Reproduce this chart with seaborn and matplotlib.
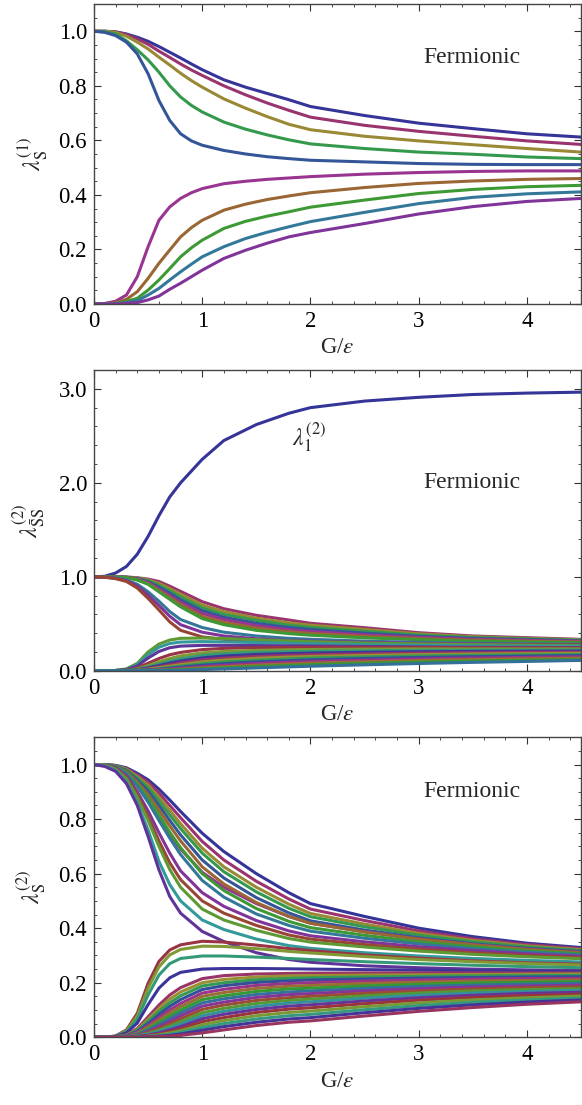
import colorsys
import numpy as np
import pandas as pd
import matplotlib
matplotlib.use("Agg")
import matplotlib.pyplot as plt
from matplotlib.ticker import MultipleLocator, FormatStrFormatter
import seaborn as sns

G1 = [0, 0.1, 0.2, 0.3, 0.4, 0.5, 0.6, 0.7, 0.8, 0.9, 1.0, 1.2, 1.4, 1.6, 1.8, 2.0, 2.5, 3.0, 3.5, 4.0, 4.5]
G = [0, 0.1, 0.2, 0.3, 0.4, 0.5, 0.6, 0.7, 0.8, 1.0, 1.2, 1.5, 1.8, 2.0, 2.5, 3.0, 3.5, 4.0, 4.5]

# panel 1: one-body eigenvalues (on G1)
p1_falling = [
    [1.0, 1.0, 0.998, 0.99, 0.978, 0.963, 0.944, 0.923, 0.902, 0.88, 0.859, 0.822, 0.795, 0.772, 0.749, 0.724, 0.691, 0.663, 0.643, 0.624, 0.612],
    [1.0, 1.0, 0.997, 0.988, 0.972, 0.952, 0.927, 0.904, 0.88, 0.858, 0.838, 0.80, 0.767, 0.737, 0.71, 0.685, 0.655, 0.633, 0.615, 0.598, 0.585],
    [1.0, 1.0, 0.996, 0.982, 0.96, 0.935, 0.905, 0.876, 0.846, 0.819, 0.795, 0.752, 0.718, 0.687, 0.659, 0.639, 0.615, 0.598, 0.584, 0.57, 0.557],
    [1.0, 0.998, 0.99, 0.965, 0.932, 0.895, 0.85, 0.80, 0.759, 0.728, 0.704, 0.667, 0.641, 0.62, 0.602, 0.587, 0.57, 0.557, 0.549, 0.539, 0.533],
    [1.0, 0.996, 0.984, 0.96, 0.917, 0.844, 0.746, 0.673, 0.624, 0.598, 0.582, 0.563, 0.55, 0.54, 0.533, 0.527, 0.521, 0.515, 0.512, 0.511, 0.511],
]
p1_rising = [
    [0.0, 0.002, 0.01, 0.033, 0.10, 0.21, 0.307, 0.356, 0.387, 0.408, 0.423, 0.441, 0.45, 0.457, 0.462, 0.467, 0.476, 0.482, 0.486, 0.488, 0.488],
    [0.0, 0.0, 0.005, 0.017, 0.045, 0.094, 0.149, 0.198, 0.246, 0.28, 0.307, 0.344, 0.366, 0.383, 0.396, 0.408, 0.427, 0.442, 0.451, 0.457, 0.46],
    [0.0, 0.0, 0.002, 0.009, 0.021, 0.051, 0.088, 0.13, 0.173, 0.206, 0.234, 0.277, 0.303, 0.322, 0.338, 0.355, 0.381, 0.405, 0.42, 0.43, 0.435],
    [0.0, 0.0, 0.001, 0.005, 0.012, 0.033, 0.057, 0.088, 0.118, 0.146, 0.173, 0.21, 0.24, 0.263, 0.283, 0.302, 0.336, 0.368, 0.391, 0.404, 0.411],
    [0.0, 0.0, 0.0, 0.002, 0.005, 0.015, 0.029, 0.054, 0.076, 0.10, 0.124, 0.167, 0.197, 0.223, 0.246, 0.262, 0.295, 0.33, 0.357, 0.376, 0.387],
]

# panel 2: pair eigenvalues (largest one + bundles), on G
p2_top = [1.0, 1.005, 1.04, 1.11, 1.24, 1.43, 1.65, 1.85, 2.0, 2.25, 2.45, 2.62, 2.74, 2.80, 2.87, 2.91, 2.94, 2.955, 2.965]
p2_falling = [
    [1.0, 1.0, 1.0, 0.998, 0.99, 0.975, 0.95, 0.90, 0.845, 0.735, 0.66, 0.59, 0.54, 0.505, 0.458, 0.405, 0.37, 0.352, 0.334],
    [1.0, 1.0, 0.999, 0.996, 0.986, 0.966, 0.93, 0.875, 0.815, 0.70, 0.63, 0.56, 0.51, 0.485, 0.44, 0.393, 0.362, 0.345, 0.329],
    [1.0, 1.0, 0.999, 0.995, 0.982, 0.957, 0.91, 0.85, 0.785, 0.67, 0.60, 0.535, 0.485, 0.462, 0.42, 0.38, 0.353, 0.338, 0.324],
    [1.0, 1.0, 0.998, 0.994, 0.978, 0.947, 0.89, 0.825, 0.755, 0.64, 0.57, 0.505, 0.46, 0.44, 0.40, 0.366, 0.344, 0.331, 0.318],
    [1.0, 1.0, 0.998, 0.993, 0.974, 0.937, 0.87, 0.80, 0.728, 0.61, 0.545, 0.48, 0.438, 0.418, 0.382, 0.354, 0.335, 0.323, 0.312],
    [1.0, 1.0, 0.998, 0.992, 0.97, 0.928, 0.855, 0.78, 0.705, 0.58, 0.515, 0.455, 0.415, 0.397, 0.366, 0.342, 0.325, 0.314, 0.305],
    [1.0, 1.0, 0.997, 0.99, 0.965, 0.92, 0.84, 0.76, 0.68, 0.555, 0.49, 0.43, 0.395, 0.378, 0.35, 0.33, 0.315, 0.305, 0.298],
    [1.0, 0.997, 0.988, 0.965, 0.92, 0.84, 0.74, 0.63, 0.545, 0.46, 0.41, 0.37, 0.345, 0.335, 0.315, 0.302, 0.293, 0.287, 0.283],
    [1.0, 0.996, 0.984, 0.958, 0.90, 0.805, 0.695, 0.58, 0.49, 0.41, 0.37, 0.34, 0.322, 0.315, 0.302, 0.292, 0.285, 0.28, 0.277],
    [1.0, 0.995, 0.98, 0.95, 0.88, 0.77, 0.647, 0.52, 0.43, 0.36, 0.334, 0.316, 0.305, 0.30, 0.29, 0.283, 0.278, 0.275, 0.273],
]
p2_rising = [
    [0, 0, 0.003, 0.02, 0.078, 0.20, 0.284, 0.327, 0.345, 0.348, 0.343, 0.33, 0.318, 0.31, 0.295, 0.285, 0.278, 0.272, 0.268],
    [0, 0, 0.002, 0.016, 0.065, 0.17, 0.25, 0.29, 0.305, 0.31, 0.307, 0.30, 0.292, 0.288, 0.278, 0.27, 0.265, 0.262, 0.26],
    [0, 0, 0.002, 0.012, 0.05, 0.135, 0.205, 0.245, 0.262, 0.27, 0.27, 0.268, 0.265, 0.263, 0.258, 0.254, 0.25, 0.248, 0.246],
    [0, 0, 0.001, 0.008, 0.03, 0.08, 0.13, 0.17, 0.195, 0.225, 0.238, 0.245, 0.248, 0.249, 0.249, 0.247, 0.245, 0.243, 0.242],
    [0, 0, 0.0, 0.005, 0.02, 0.055, 0.095, 0.13, 0.158, 0.19, 0.205, 0.217, 0.223, 0.226, 0.23, 0.232, 0.232, 0.232, 0.232],
    [0, 0, 0, 0.004, 0.015, 0.04, 0.072, 0.102, 0.128, 0.163, 0.18, 0.195, 0.203, 0.207, 0.213, 0.217, 0.219, 0.22, 0.221],
    [0, 0, 0, 0.003, 0.011, 0.03, 0.055, 0.08, 0.103, 0.137, 0.156, 0.173, 0.183, 0.188, 0.196, 0.202, 0.206, 0.208, 0.21],
    [0, 0, 0, 0.002, 0.008, 0.022, 0.042, 0.063, 0.083, 0.115, 0.134, 0.152, 0.164, 0.17, 0.18, 0.187, 0.192, 0.196, 0.198],
    [0, 0, 0, 0.001, 0.006, 0.016, 0.031, 0.048, 0.065, 0.094, 0.113, 0.132, 0.145, 0.152, 0.163, 0.172, 0.178, 0.182, 0.186],
    [0, 0, 0, 0.001, 0.004, 0.011, 0.022, 0.036, 0.05, 0.075, 0.093, 0.112, 0.126, 0.134, 0.147, 0.157, 0.164, 0.169, 0.173],
    [0, 0, 0, 0, 0.003, 0.008, 0.016, 0.026, 0.037, 0.058, 0.075, 0.094, 0.108, 0.116, 0.13, 0.141, 0.15, 0.156, 0.161],
    [0, 0, 0, 0, 0.002, 0.005, 0.011, 0.018, 0.026, 0.043, 0.058, 0.076, 0.09, 0.098, 0.113, 0.125, 0.135, 0.142, 0.148],
    [0, 0, 0, 0, 0.001, 0.003, 0.007, 0.012, 0.018, 0.03, 0.043, 0.059, 0.072, 0.08, 0.095, 0.108, 0.119, 0.127, 0.134],
    [0, 0, 0, 0, 0, 0.002, 0.004, 0.007, 0.011, 0.02, 0.03, 0.044, 0.056, 0.064, 0.078, 0.092, 0.103, 0.112, 0.12],
    [0, 0, 0, 0, 0, 0.001, 0.002, 0.004, 0.006, 0.012, 0.019, 0.03, 0.041, 0.048, 0.063, 0.077, 0.089, 0.099, 0.11],
]

# panel 3: two-body eigenvalues, on G
p3_falling = [
    [1.0, 1.0, 0.997, 0.988, 0.968, 0.944, 0.91, 0.87, 0.828, 0.748, 0.681, 0.60, 0.53, 0.49, 0.443, 0.40, 0.369, 0.345, 0.329],
    [1.0, 1.0, 0.996, 0.985, 0.962, 0.935, 0.895, 0.85, 0.805, 0.718, 0.65, 0.572, 0.507, 0.47, 0.428, 0.39, 0.361, 0.34, 0.325],
    [1.0, 1.0, 0.996, 0.983, 0.956, 0.925, 0.88, 0.832, 0.783, 0.693, 0.625, 0.55, 0.488, 0.454, 0.415, 0.381, 0.355, 0.335, 0.321],
    [1.0, 1.0, 0.995, 0.98, 0.95, 0.915, 0.866, 0.815, 0.765, 0.675, 0.607, 0.533, 0.473, 0.442, 0.405, 0.374, 0.35, 0.331, 0.318],
    [1.0, 1.0, 0.994, 0.977, 0.944, 0.903, 0.85, 0.795, 0.742, 0.65, 0.584, 0.512, 0.456, 0.427, 0.393, 0.365, 0.343, 0.326, 0.314],
    [1.0, 0.999, 0.99, 0.968, 0.925, 0.87, 0.805, 0.745, 0.69, 0.605, 0.55, 0.49, 0.443, 0.418, 0.387, 0.36, 0.34, 0.323, 0.311],
    [1.0, 1.0, 0.993, 0.974, 0.936, 0.89, 0.833, 0.775, 0.72, 0.625, 0.562, 0.494, 0.443, 0.418, 0.386, 0.36, 0.339, 0.322, 0.31],
    [1.0, 1.0, 0.992, 0.97, 0.928, 0.876, 0.815, 0.752, 0.695, 0.6, 0.538, 0.472, 0.425, 0.402, 0.374, 0.35, 0.332, 0.317, 0.306],
    [1.0, 1.0, 0.99, 0.966, 0.92, 0.862, 0.795, 0.73, 0.67, 0.575, 0.514, 0.452, 0.41, 0.389, 0.363, 0.342, 0.325, 0.312, 0.302],
    [1.0, 0.999, 0.988, 0.958, 0.9, 0.83, 0.75, 0.675, 0.61, 0.53, 0.48, 0.428, 0.39, 0.372, 0.35, 0.332, 0.318, 0.306, 0.297],
    [1.0, 0.998, 0.985, 0.952, 0.89, 0.81, 0.72, 0.64, 0.578, 0.5, 0.455, 0.41, 0.375, 0.36, 0.34, 0.323, 0.31, 0.3, 0.292],
    [1.0, 0.998, 0.983, 0.948, 0.88, 0.795, 0.7, 0.615, 0.55, 0.47, 0.43, 0.392, 0.362, 0.349, 0.331, 0.316, 0.304, 0.295, 0.288],
    [1.0, 0.995, 0.978, 0.935, 0.86, 0.76, 0.645, 0.56, 0.5, 0.43, 0.395, 0.36, 0.336, 0.326, 0.31, 0.298, 0.289, 0.282, 0.276],
    [1.0, 0.993, 0.975, 0.93, 0.85, 0.736, 0.614, 0.516, 0.455, 0.388, 0.351, 0.31, 0.285, 0.275, 0.262, 0.255, 0.25, 0.247, 0.245],
]
p3_rising = [
    [0, 0, 0.005, 0.027, 0.088, 0.198, 0.278, 0.32, 0.339, 0.352, 0.349, 0.338, 0.325, 0.318, 0.302, 0.29, 0.28, 0.273, 0.268],
    [0, 0, 0.004, 0.024, 0.078, 0.18, 0.258, 0.302, 0.322, 0.334, 0.333, 0.325, 0.315, 0.309, 0.296, 0.285, 0.277, 0.27, 0.265],
    [0, 0, 0.004, 0.02, 0.066, 0.155, 0.228, 0.27, 0.289, 0.298, 0.298, 0.294, 0.289, 0.285, 0.277, 0.27, 0.264, 0.259, 0.255],
    [0, 0, 0.003, 0.016, 0.052, 0.12, 0.18, 0.218, 0.238, 0.25, 0.252, 0.252, 0.251, 0.25, 0.248, 0.246, 0.244, 0.242, 0.24],
    [0, 0, 0.002, 0.009, 0.032, 0.075, 0.118, 0.155, 0.182, 0.215, 0.226, 0.232, 0.234, 0.235, 0.236, 0.236, 0.236, 0.236, 0.236],
    [0, 0, 0.002, 0.008, 0.028, 0.066, 0.105, 0.14, 0.166, 0.2, 0.212, 0.221, 0.225, 0.226, 0.228, 0.229, 0.23, 0.231, 0.232],
    [0, 0, 0.001, 0.007, 0.025, 0.058, 0.094, 0.126, 0.152, 0.188, 0.2, 0.211, 0.216, 0.218, 0.221, 0.223, 0.225, 0.226, 0.227],
    [0, 0, 0.001, 0.006, 0.021, 0.05, 0.083, 0.113, 0.138, 0.175, 0.189, 0.201, 0.207, 0.21, 0.214, 0.217, 0.219, 0.221, 0.222],
    [0, 0, 0.001, 0.005, 0.018, 0.043, 0.072, 0.1, 0.124, 0.162, 0.176, 0.19, 0.197, 0.2, 0.206, 0.21, 0.213, 0.215, 0.216],
    [0, 0, 0.001, 0.004, 0.015, 0.037, 0.063, 0.089, 0.112, 0.15, 0.164, 0.179, 0.187, 0.19, 0.197, 0.202, 0.206, 0.208, 0.21],
    [0, 0, 0, 0.003, 0.012, 0.031, 0.054, 0.078, 0.1, 0.138, 0.152, 0.168, 0.177, 0.18, 0.188, 0.194, 0.199, 0.202, 0.204],
    [0, 0, 0, 0.003, 0.01, 0.026, 0.046, 0.068, 0.089, 0.126, 0.141, 0.157, 0.166, 0.17, 0.179, 0.186, 0.191, 0.195, 0.198],
    [0, 0, 0, 0.002, 0.008, 0.021, 0.039, 0.058, 0.078, 0.114, 0.129, 0.146, 0.156, 0.16, 0.17, 0.178, 0.184, 0.188, 0.191],
    [0, 0, 0, 0.002, 0.006, 0.017, 0.032, 0.049, 0.067, 0.102, 0.118, 0.135, 0.145, 0.15, 0.161, 0.17, 0.177, 0.182, 0.185],
    [0, 0, 0, 0.001, 0.005, 0.014, 0.026, 0.041, 0.057, 0.09, 0.106, 0.124, 0.135, 0.14, 0.152, 0.162, 0.17, 0.175, 0.178],
    [0, 0, 0, 0.001, 0.004, 0.011, 0.021, 0.034, 0.048, 0.079, 0.095, 0.113, 0.125, 0.13, 0.143, 0.154, 0.162, 0.168, 0.172],
    [0, 0, 0, 0.001, 0.003, 0.008, 0.016, 0.027, 0.039, 0.068, 0.084, 0.102, 0.114, 0.119, 0.133, 0.145, 0.154, 0.161, 0.165],
    [0, 0, 0, 0, 0.002, 0.006, 0.012, 0.021, 0.031, 0.057, 0.072, 0.091, 0.103, 0.108, 0.123, 0.136, 0.146, 0.153, 0.158],
    [0, 0, 0, 0, 0.001, 0.004, 0.009, 0.016, 0.024, 0.046, 0.061, 0.079, 0.091, 0.096, 0.112, 0.126, 0.137, 0.145, 0.151],
    [0, 0, 0, 0, 0.001, 0.003, 0.006, 0.011, 0.018, 0.036, 0.05, 0.067, 0.079, 0.084, 0.101, 0.116, 0.128, 0.137, 0.144],
    [0, 0, 0, 0, 0, 0.002, 0.004, 0.007, 0.012, 0.026, 0.039, 0.055, 0.067, 0.072, 0.09, 0.106, 0.119, 0.129, 0.137],
    [0, 0, 0, 0, 0, 0.001, 0.002, 0.004, 0.007, 0.016, 0.027, 0.043, 0.055, 0.06, 0.078, 0.095, 0.109, 0.121, 0.13],
]

sns.set_style("ticks")
# Times-like text; STIXGeneral ships with matplotlib in case Liberation Serif is missing
plt.rcParams['font.family'] = ['Liberation Serif', 'STIXGeneral', 'DejaVu Serif']
plt.rcParams['mathtext.fontset'] = 'stix'


def mma_colors(n):
    """Old Mathematica default plot colours (hue stepping)"""
    return [colorsys.hsv_to_rgb((2 / 3 + 0.2360679 * k) % 1, 0.66, 0.6) for k in range(n)]


def draw_curves(ax, grid, curves):
    frames = [pd.DataFrame({'G': grid, 'lam': ys, 'curve': i}) for i, ys in enumerate(curves)]
    df = pd.concat(frames, ignore_index=True)
    sns.lineplot(data=df, x='G', y='lam', hue='curve', palette=mma_colors(len(curves)),
                 legend=False, linewidth=2.2, estimator=None, sort=False, ax=ax)


def style_axes(ax, ymax, ymajor, yminor, ylabel, label_x, fermi_y):
    ax.set_xlim(0, 4.5)
    ax.set_ylim(0, ymax)
    ax.xaxis.set_major_locator(MultipleLocator(1))
    ax.xaxis.set_minor_locator(MultipleLocator(0.2))
    ax.yaxis.set_major_locator(MultipleLocator(ymajor))
    ax.yaxis.set_minor_locator(MultipleLocator(yminor))
    ax.xaxis.set_major_formatter(FormatStrFormatter('%d'))
    ax.yaxis.set_major_formatter(FormatStrFormatter('%.1f'))
    ax.tick_params(which='both', direction='in', top=True, right=True, labelsize=16.5,
                   colors='#333333', labelcolor='black')
    ax.tick_params(which='major', length=5, width=0.8, pad=5)
    ax.tick_params(which='minor', length=2.5, width=0.6)
    for sp in ax.spines.values():
        sp.set_color('#444444')
        sp.set_linewidth(1.0)
    ax.set_xlabel(r'G/$\epsilon$', fontsize=16.5, labelpad=4)
    ax.set_ylabel(ylabel, fontsize=17)
    ax.yaxis.set_label_coords(label_x, 0.5)
    ax.text(3.49, fermi_y, 'Fermionic', fontsize=17, ha='center', va='center')


fig = plt.figure(figsize=(5.82, 11.05), dpi=100)
left, width = 0.1615, 0.8368

ax1 = fig.add_axes([left, 0.7249, width, 0.2715])
draw_curves(ax1, G1, p1_falling + p1_rising)
style_axes(ax1, 1.1, 0.2, 0.05, r'$\lambda_{\mathrm{S}}^{(1)}$', -0.09, 0.905)

ax2 = fig.add_axes([left, 0.3930, width, 0.2721])
draw_curves(ax2, G, [p2_top] + p2_falling + p2_rising)
style_axes(ax2, 3.2, 1.0, 0.2, r'$\lambda^{(2)}_{\bar{\mathrm{S}}\mathrm{S}}$', -0.097, 2.0)
ax2.text(1.99, 2.49, r'$\lambda_1^{(2)}$', fontsize=17, ha='center', va='center')

ax3 = fig.add_axes([left, 0.0613, width, 0.2715])
draw_curves(ax3, G, p3_falling + p3_rising)
style_axes(ax3, 1.1, 0.2, 0.05, r'$\lambda_{\mathrm{S}}^{(2)}$', -0.094, 0.90)

fig.savefig('out.png', dpi=100, facecolor='white')
